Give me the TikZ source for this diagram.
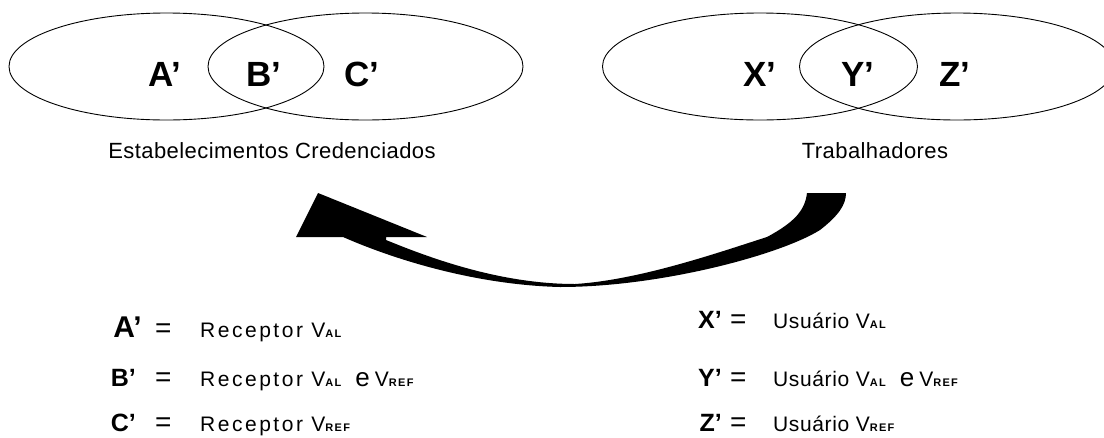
\documentclass[tikz,border=0pt]{standalone}
\usepackage{fontspec}
\setmainfont{Liberation Sans}
\newfontfamily\capfnt[LetterSpace=2]{Liberation Sans}
\newfontfamily\recfnt[LetterSpace=12]{Liberation Sans}
\newfontfamily\usfnt[LetterSpace=3]{Liberation Sans}
\newfontfamily\subfnt[LetterSpace=12]{Liberation Sans}
\usetikzlibrary{shapes.geometric}
\newcommand{\subtxt}[1]{{\subfnt\bfseries\fontsize{11}{11}\selectfont #1}}
\newcommand{\bige}{{\rmfamily\mdseries\fontsize{26}{26}\selectfont e}}
\tikzset{
  venn/.style={draw, line width=0.9pt, ellipse, minimum width=315pt, minimum height=107pt, inner sep=0pt},
  vlab/.style={font=\fontsize{35}{35}\selectfont\bfseries, anchor=base, inner sep=0pt},
  captxt/.style={font=\capfnt\fontsize{22}{22}\selectfont, anchor=base, inner sep=0pt},
  leglab/.style={font=\fontsize{25}{25}\selectfont\bfseries, anchor=base east, inner sep=0pt},
  eqsign/.style={font=\fontsize{28}{28}\selectfont, anchor=base west, inner sep=0pt},
  rectxt/.style={font=\recfnt\fontsize{21}{21}\selectfont, anchor=base west, inner sep=0pt},
  ustxt/.style={font=\usfnt\fontsize{21}{21}\selectfont, anchor=base west, inner sep=0pt},
  bigarrow/.style={fill=black, draw=none}
}
\begin{document}
\begin{tikzpicture}[x=1pt,y=-1pt]
\useasboundingbox (0,0) rectangle (1104,437);
% Venn diagrams
\node[venn] (eA) at (166.5,66.5) {};
\node[venn] (eC) at (365.5,66.5) {};
\node[venn] (eX) at (760,66.5) {};
\node[venn] (eZ) at (957,66.5) {};
\node[vlab] (lA) at (165,86) {A'};
\node[vlab] (lB) at (264,86) {B'};
\node[vlab] (lC) at (362,86) {C'};
\node[vlab] (lX) at (760,86) {X'};
\node[vlab] (lY) at (858,86) {Y'};
\node[vlab] (lZ) at (955,86) {Z'};
\node[captxt] (capL) at (272,158) {Estabelecimentos Credenciados};
\node[captxt] (capR) at (875,158) {Trabalhadores};
% curved arrow
\path[bigarrow] (318,193) -- (296,237) -- (343,237)
  .. controls (400,262) and (480,285) .. (560,287)
  .. controls (660,287) and (780,255) .. (820,230)
  .. controls (838,216) and (846,205) .. (846,193)
  -- (807,193)
  .. controls (805,210) and (795,222) .. (767,237)
  .. controls (720,252) and (640,280) .. (575,284)
  .. controls (500,284) and (430,258) .. (386,240)
  -- (386,237) -- (427,237) -- cycle;
% legend left
\node[leglab, font=\fontsize{30}{30}\selectfont\bfseries] (kA) at (142,337) {A'};
\node[eqsign] (qA) at (155,337) {=};
\node[rectxt] (tA) at (200,337) {Receptor V\subtxt{AL}};
\node[leglab] (kB) at (136,386) {B'};
\node[eqsign] (qB) at (155,386) {=};
\node[rectxt] (tB) at (200,386) {Receptor V\subtxt{AL}\hspace{14pt}\bige\hspace{5pt}V\subtxt{REF}};
\node[leglab] (kC) at (136,431) {C'};
\node[eqsign] (qC) at (155,431) {=};
\node[rectxt] (tC) at (200,431) {Receptor V\subtxt{REF}};
% legend right
\node[leglab] (kX) at (722,328) {X'};
\node[eqsign] (qX) at (730,328) {=};
\node[ustxt] (tX) at (773,328) {Usuário V\subtxt{AL}};
\node[leglab] (kY) at (722,386) {Y'};
\node[eqsign] (qY) at (730,386) {=};
\node[ustxt] (tY) at (773,386) {Usuário V\subtxt{AL}\hspace{14pt}\bige\hspace{5pt}V\subtxt{REF}};
\node[leglab] (kZ) at (722,431) {Z'};
\node[eqsign] (qZ) at (730,431) {=};
\node[ustxt] (tZ) at (773,431) {Usuário V\subtxt{REF}};
\end{tikzpicture}
\end{document}
